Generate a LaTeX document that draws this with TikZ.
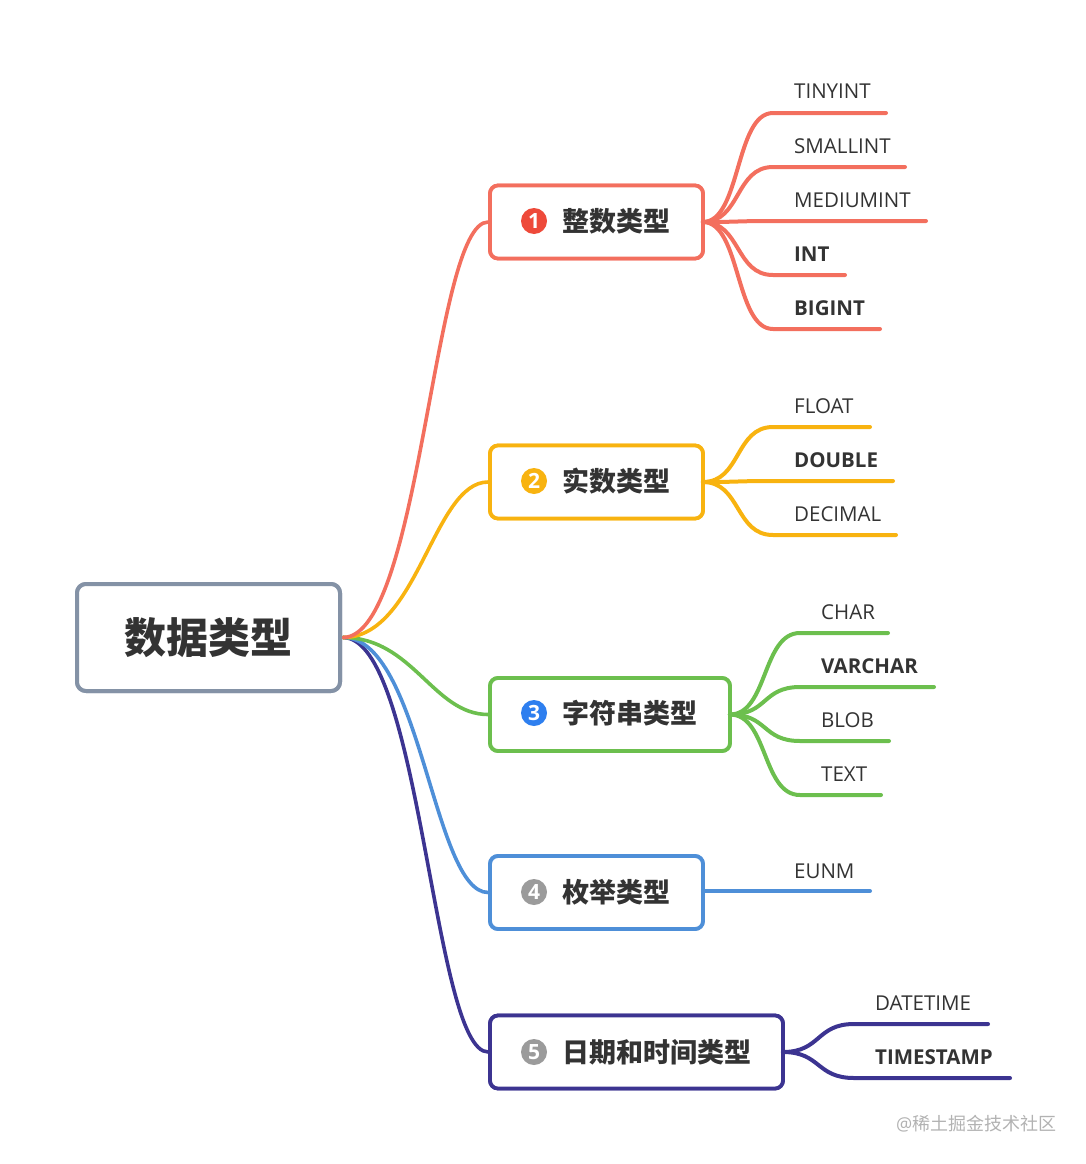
\documentclass[tikz,border=0pt]{standalone}
\usepackage{fontspec}
\setmainfont{Open Sans}
\newfontfamily\cjk{Noto Sans CJK SC}
\definecolor{cA}{HTML}{F36F5E}
\definecolor{cB}{HTML}{F8B310}
\definecolor{cC}{HTML}{6CBF4E}
\definecolor{cD}{HTML}{4E8FD8}
\definecolor{cE}{HTML}{3C3491}
\definecolor{cR}{HTML}{8492A6}
\definecolor{txt}{HTML}{333333}
\definecolor{icA}{HTML}{EE4A3A}
\definecolor{icC}{HTML}{2E7FEF}
\definecolor{icG}{HTML}{9B9B9B}
\tikzset{
  rootbox/.style={draw=cR, line width=4pt, rounded corners=9pt, minimum width=263pt, minimum height=107pt, fill=white, text=txt, font=\cjk\bfseries\fontsize{42}{48}\selectfont},
  branchbox/.style={draw=#1, line width=3.8pt, rounded corners=8pt, fill=white, minimum height=73pt},
  icon/.style={circle, fill=#1, minimum size=26pt, inner sep=0pt, text=white, font=\bfseries\fontsize{21}{21}\selectfont},
  blabel/.style={anchor=west, inner sep=0pt, text=txt, font=\cjk\bfseries\fontsize{27}{30}\selectfont},
  leaf/.style={anchor=base west, inner sep=0pt, text=txt, font=\fontsize{20.5}{24}\selectfont},
  leafb/.style={leaf, font=\bfseries\fontsize{20.5}{24}\selectfont},
  conn/.style={draw=#1, line width=3.6pt, line cap=round},
  lconn/.style={draw=#1, line width=4pt, line cap=round},
}
\begin{document}
\begin{tikzpicture}[x=1pt,y=-1pt]
\useasboundingbox (0,0) rectangle (1086,1164);
% root and branch boxes
\node[rootbox] (root) at (208.5,637.5) {数据类型};
\node[branchbox=cA, minimum width=213pt] (b1) at (596.5,222) {};
\node[branchbox=cB, minimum width=213pt] (b2) at (596.5,482) {};
\node[branchbox=cC, minimum width=240pt] (b3) at (610,714.5) {};
\node[branchbox=cD, minimum width=213pt] (b4) at (596.5,892.5) {};
\node[branchbox=cE, minimum width=293pt] (b5) at (636.5,1052) {};
% root connectors
\draw[conn=cE] ([xshift=1pt]root.east) .. controls +(78,0) and +(-55,0) .. (b5.west);
\draw[conn=cD] ([xshift=1pt]root.east) .. controls +(78,0) and +(-55,0) .. (b4.west);
\draw[conn=cC] ([xshift=1pt]root.east) .. controls +(70,0) and +(-55,0) .. (b3.west);
\draw[conn=cB] ([xshift=1pt]root.east) .. controls +(75,0) and +(-55,0) .. (b2.west);
\draw[conn=cA] ([xshift=1pt]root.east) .. controls +(78,0) and +(-55,0) .. (b1.west);
% redraw boxes on top
\node[branchbox=cA, minimum width=213pt] at (b1) {};
\node[branchbox=cB, minimum width=213pt] at (b2) {};
\node[branchbox=cC, minimum width=240pt] at (b3) {};
\node[branchbox=cD, minimum width=213pt] at (b4) {};
\node[branchbox=cE, minimum width=293pt] at (b5) {};
\node[rootbox] at (root) {数据类型};
% icons and labels
\node[icon=icA] (i1) at (534,221) {1};
\node[blabel] (t1) at (562,221) {整数类型};
\node[icon=cB] (i2) at (534,481) {2};
\node[blabel] (t2) at (562,481) {实数类型};
\node[icon=icC] (i3) at (534,713) {3};
\node[blabel] (t3) at (562,713) {字符串类型};
\node[icon=icG] (i4) at (534,892) {4};
\node[blabel] (t4) at (562,892) {枚举类型};
\node[icon=icG] (i5) at (534,1052) {5};
\node[blabel] (t5) at (562,1052) {日期和时间类型};
% branch 1 leaves
\node[leaf]  (l11) at (794,99) {TINYINT};
\node[leaf]  (l12) at (794,153) {SMALLINT};
\node[leaf]  (l13) at (794,207) {MEDIUMINT};
\node[leafb] (l14) at (794,261) {INT};
\node[leafb] (l15) at (794,315) {BIGINT};
\coordinate (s11) at (773,113); \coordinate (e11) at (886,113);
\coordinate (s12) at (773,167); \coordinate (e12) at (905,167);
\coordinate (s13) at (773,221); \coordinate (e13) at (926,221);
\coordinate (s14) at (773,275); \coordinate (e14) at (845,275);
\coordinate (s15) at (773,329); \coordinate (e15) at (880,329);
\foreach \i in {1,...,5}{
  \draw[lconn=cA] ([xshift=-2pt]b1.east) .. controls +(38,0) and +(-38,0) .. (s1\i) -- (e1\i);
}
% branch 2 leaves
\node[leaf]  (l21) at (794,413) {FLOAT};
\node[leafb] (l22) at (794,467) {DOUBLE};
\node[leaf]  (l23) at (794,521) {DECIMAL};
\coordinate (s21) at (773,427); \coordinate (e21) at (870,427);
\coordinate (s22) at (773,481); \coordinate (e22) at (893,481);
\coordinate (s23) at (773,535); \coordinate (e23) at (896,535);
\foreach \i in {1,...,3}{
  \draw[lconn=cB] ([xshift=-2pt]b2.east) .. controls +(38,0) and +(-38,0) .. (s2\i) -- (e2\i);
}
% branch 3 leaves
\node[leaf]  (l31) at (821,619) {CHAR};
\node[leafb] (l32) at (821,673) {VARCHAR};
\node[leaf]  (l33) at (821,727) {BLOB};
\node[leaf]  (l34) at (821,781) {TEXT};
\coordinate (s31) at (800,633); \coordinate (e31) at (888,633);
\coordinate (s32) at (800,687); \coordinate (e32) at (934,687);
\coordinate (s33) at (800,741); \coordinate (e33) at (889,741);
\coordinate (s34) at (800,795); \coordinate (e34) at (881,795);
\foreach \i in {1,...,4}{
  \draw[lconn=cC] ([xshift=-2pt]b3.east) .. controls +(38,0) and +(-38,0) .. (s3\i) -- (e3\i);
}
% branch 4 leaf
\node[leaf] (l41) at (794,878) {EUNM};
\coordinate (e41) at (870,891);
\draw[lconn=cD] ([xshift=-2pt]b4.east |- e41) -- (e41);
% branch 5 leaves
\node[leaf]  (l51) at (875,1010) {DATETIME};
\node[leafb] (l52) at (875,1064) {TIMESTAMP};
\coordinate (s51) at (854,1024); \coordinate (e51) at (988,1024);
\coordinate (s52) at (854,1078); \coordinate (e52) at (1010,1078);
\foreach \i in {1,2}{
  \draw[lconn=cE] ([xshift=-2pt]b5.east) .. controls +(38,0) and +(-38,0) .. (s5\i) -- (e5\i);
}
% watermark
\node[anchor=west, inner sep=0pt, text=black!30, font=\fontsize{18}{20}\selectfont] (wm) at (896,1124) {@{\cjk 稀土掘金技术社区}};
\end{tikzpicture}
\end{document}
